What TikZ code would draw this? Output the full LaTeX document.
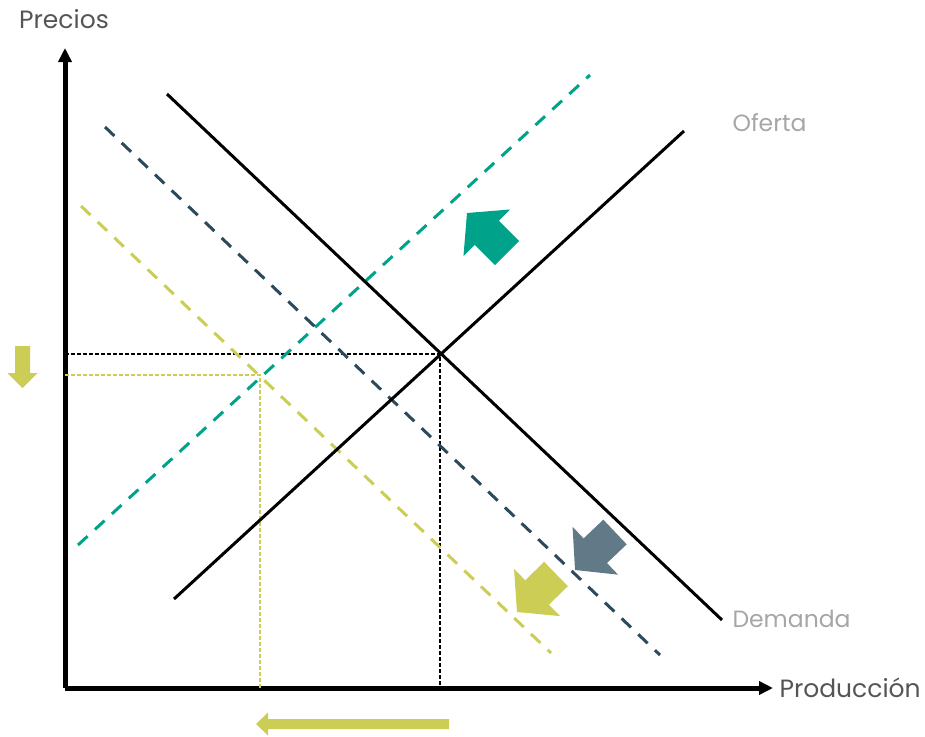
\documentclass[tikz,border=0pt]{standalone}
\usepackage{fontspec}
\setmainfont{Poppins}
\usetikzlibrary{calc,arrows.meta}

\definecolor{ofertanueva}{HTML}{00A389}
\definecolor{demandamedia}{HTML}{2C4A5C}
\definecolor{demandanueva}{HTML}{CBCD55}
\definecolor{flechagris}{HTML}{627987}
\definecolor{textoeje}{HTML}{555555}
\definecolor{textocurva}{HTML}{A6A6A6}

% thick block arrow: colour, tail, tip, shaft half width, head half width, head length
\newcommand{\fatarrow}[6]{%
  \coordinate (hb) at ($(#3)!#6!(#2)$);
  \fill[#1] ($(#2)!#4!90:(#3)$) -- ($(hb)!#4!90:(#3)$) -- ($(hb)!#5!90:(#3)$)
    -- (#3) -- ($(hb)!#5!-90:(#3)$) -- ($(hb)!#4!-90:(#3)$) -- ($(#2)!#4!-90:(#3)$) -- cycle;
}

\tikzset{
  eje/.style={line width=5pt, -{Triangle[length=14pt, width=13pt]}},
  curva/.style={line width=3pt},
  discontinua/.style={line width=3pt, dash pattern=on 13pt off 10pt},
  guia/.style={line width=1.2pt, dash pattern=on 4pt off 2pt},
  rotulo/.style={font=\fontsize{25}{28}\selectfont, text=textoeje},
  rotulocurva/.style={font=\fontsize{23.5}{27}\selectfont, text=textocurva}
}

\begin{document}
\begin{tikzpicture}[x=1pt, y=-1pt]

\useasboundingbox (0,0) rectangle (925,736);

% Axes
\coordinate (origen) at (65,688);
\coordinate (arriba) at (65,48);
\coordinate (derecha) at (773,688);
\draw[eje] (origen) -- (arriba);
\draw[eje] (origen) -- (derecha);

\node[rotulo] (precios) at (64,19) {Precios};
\node[rotulo, anchor=west] (produccion) at (776,688) {Producción};

% Curve end points
\coordinate (d1) at (167,94);   \coordinate (d2) at (722,620);
\coordinate (o1) at (174,599);  \coordinate (o2) at (684,131);
\coordinate (m1) at (105,127);  \coordinate (m2) at (660,655);
\coordinate (y1) at (81,206);   \coordinate (y2) at (551,653);
\coordinate (t1) at (78,545);   \coordinate (t2) at (590,75);

% Equilibrium points
\coordinate (eq) at (440,354);
\coordinate (eqnuevo) at (260,375);

% Guide lines
\draw[guia] (eq -| origen) -- (eq) -- (eq |- origen);
\draw[guia, demandanueva] (eqnuevo -| origen) -- (eqnuevo) -- (eqnuevo |- origen);

% Shifted curves
\draw[discontinua, ofertanueva] (t1) -- (t2);
\draw[discontinua, demandamedia] (m1) -- (m2);
\draw[discontinua, demandanueva] (y1) -- (y2);

% Supply and demand
\draw[curva] (d1) -- (d2);
\draw[curva] (o1) -- (o2);

\node[rotulocurva, anchor=west] (oferta) at (729,123) {Oferta};
\node[rotulocurva, anchor=west] (demanda) at (729,619) {Demanda};

% Shift arrows
\coordinate (tcola) at (507,253);  \coordinate (tpunta) at (467,213);
\fatarrow{ofertanueva}{tcola}{tpunta}{17pt}{33pt}{28pt}
\coordinate (gcola) at (615,532);  \coordinate (gpunta) at (575,570);
\fatarrow{flechagris}{gcola}{gpunta}{17pt}{33pt}{28pt}
\coordinate (ycola) at (556,574);  \coordinate (ypunta) at (517,612);
\fatarrow{demandanueva}{ycola}{ypunta}{17pt}{33pt}{28pt}
\coordinate (pcola) at (22.5,346); \coordinate (ppunta) at (22.5,388);
\fatarrow{demandanueva}{pcola}{ppunta}{7.5pt}{15pt}{15pt}
\coordinate (qcola) at (449,724);  \coordinate (qpunta) at (256,724);
\fatarrow{demandanueva}{qcola}{qpunta}{5pt}{11.5pt}{12pt}

\end{tikzpicture}
\end{document}
